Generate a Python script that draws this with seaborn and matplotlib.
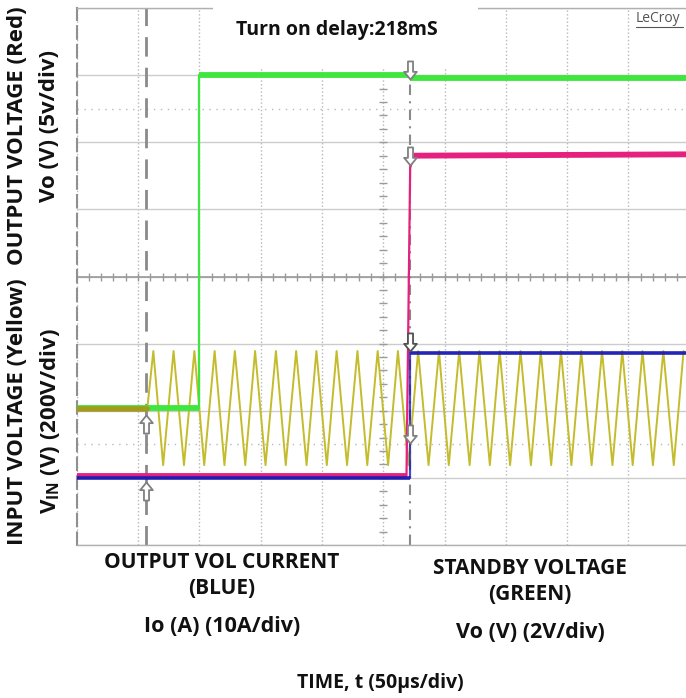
import matplotlib
matplotlib.use("Agg")
import matplotlib.pyplot as plt
from matplotlib.patches import Rectangle
from matplotlib.path import Path
import seaborn as sns
import pandas as pd
import numpy as np

sns.set_theme(style="white")
plt.rcParams['font.family'] = ['Open Sans', 'DejaVu Sans']
plt.rcParams['mathtext.fontset'] = 'custom'
plt.rcParams['mathtext.rm'] = 'Open Sans'
plt.rcParams['mathtext.bf'] = 'Open Sans:bold'

# scope traces, x in divisions (50us/div), y in divisions from the bottom
green_x = [0, 2.0, 2.0, 5.44, 5.44, 10]
green_y = [2.04, 2.04, 7.0, 7.0, 6.96, 6.96]
red_x = [0, 5.38, 5.44, 5.5, 10]
red_y = [1.03, 1.03, 5.62, 5.8, 5.82]
blue_x = [0, 5.44, 5.44, 10]
blue_y = [1.0, 1.0, 2.86, 2.86]
yellow_flat_x = [0, 1.15]
yellow_flat_y = [2.02, 2.02]
yellow_peaks = [1.25, 1.58, 1.92, 2.25, 2.58, 2.91, 3.25, 3.58, 3.91, 4.24, 4.58,
                4.91, 5.24, 5.57, 5.91, 6.24, 6.57, 6.90, 7.24, 7.57, 7.90, 8.23,
                8.57, 8.90, 9.23, 9.57, 9.90]
yellow_troughs = [1.41, 1.75, 2.08, 2.41, 2.75, 3.08, 3.41, 3.75, 4.08, 4.41, 4.74,
                  5.08, 5.41, 5.74, 6.07, 6.41, 6.74, 7.07, 7.41, 7.74, 8.07, 8.40,
                  8.74, 9.07, 9.40, 9.74]
peak_level = 2.89
trough_level = 1.19

cursor_x = [1.13, 5.44]
# scope marker arrows
arrow_x = [1.13, 1.13, 5.44, 5.44, 5.44, 5.44]
arrow_y = [1.80, 0.80, 7.08, 5.80, 3.02, 1.65]
arrow_dir = ['up', 'up', 'down', 'down', 'down', 'down']

GREEN = '#3ee63e'
RED = '#e6207e'
BLUE = '#1c1cb4'
YELLOW = '#c4bc2c'

W, H = 686, 698
fig = plt.figure(figsize=(W / 100, H / 100), dpi=100)
ax = fig.add_axes([76.7 / W, 1 - 545 / H, 613 / W, 537 / H])
ax.set_xlim(0, 10)
ax.set_ylim(0, 8)


def fx(px):
    return px / W


def fy(py):
    return 1 - py / H


# graticule
ax.set_xticks(range(11))
ax.set_yticks(range(9))
ax.tick_params(length=0, labelbottom=False, labelleft=False)
ax.xaxis.grid(True, ls=':', lw=1.0, color='#b8b8b8')
ax.yaxis.grid(True, ls='-', lw=1.0, color='#cccccc')
ax.set_axisbelow(True)
ax.axhline(4, color='#9a9a9a', lw=1.2, zorder=1)
for y in (1.5, 6.5):
    ax.axhline(y, color='#b8b8b8', lw=1.0, ls=(0, (1, 4)), zorder=1)
minor = np.arange(0.2, 10, 0.2)
ax.scatter(minor, np.full_like(minor, 4.0), marker='|', s=30, color='#9a9a9a', lw=1, zorder=1)
minor_y = np.arange(0.2, 8, 0.2)
ax.scatter(np.full_like(minor_y, 5.0), minor_y, marker='_', s=30, color='#9a9a9a', lw=1, zorder=1)

for s in ax.spines.values():
    s.set_color('#b0b0b0')
    s.set_linewidth(1.0)
ax.spines['left'].set_linestyle((0, (6, 3)))
ax.spines['left'].set_color('#909090')
ax.spines['left'].set_linewidth(1.5)

# cursors
ax.axvline(cursor_x[0], color='#8a8a8a', lw=2.0, ls=(0, (7, 4)), zorder=2)
ax.axvline(cursor_x[1], color='#8a8a8a', lw=1.5, ls=(0, (5, 3, 1, 3)), zorder=2)

# title box
ax.add_patch(Rectangle((fx(213), fy(68)), fx(478) - fx(213), fy(0) - fy(68),
                       transform=fig.transFigure, facecolor='white', edgecolor='none',
                       zorder=3, clip_on=False))

# yellow input AC
yx = sorted(yellow_peaks + yellow_troughs)
yy = [peak_level if v in yellow_peaks else trough_level for v in yx]
yellow_df = pd.DataFrame({'x': yellow_flat_x + yx, 'y': yellow_flat_y + yy})
sns.lineplot(data=yellow_df, x='x', y='y', estimator=None, sort=False,
             color=YELLOW, lw=1.4, solid_joinstyle='round', ax=ax, zorder=4)
sns.lineplot(x=yellow_flat_x, y=yellow_flat_y, estimator=None, sort=False,
             color='#a29c1c', lw=4, ax=ax, zorder=6)


def trace(xs, ys, color, thin, thick, z, alpha=1.0):
    df = pd.DataFrame({'x': xs, 'y': ys})
    sns.lineplot(data=df, x='x', y='y', estimator=None, sort=False,
                 color=color, lw=thin, ax=ax, zorder=z, alpha=alpha)
    for i in range(len(xs) - 1):
        if xs[i + 1] - xs[i] > 0.1:
            ax.plot(xs[i:i + 2], ys[i:i + 2], color=color, lw=thick,
                    solid_capstyle='butt', zorder=z, alpha=alpha)


trace(green_x, green_y, GREEN, 1.6, 4.2, 5)
trace(red_x, red_y, RED, 1.6, 4.2, 5)
trace(blue_x, blue_y, BLUE, 1.6, 2.8, 6, alpha=0.8)

# marker arrows (block arrow outline)
up = [(0, 1), (-0.7, 0.15), (-0.28, 0.15), (-0.28, -1), (0.28, -1), (0.28, 0.15), (0.7, 0.15), (0, 1)]
up_path = Path(up, [Path.MOVETO] + [Path.LINETO] * 6 + [Path.CLOSEPOLY])
down_path = Path([(x, -y) for x, y in up], [Path.MOVETO] + [Path.LINETO] * 6 + [Path.CLOSEPOLY])
for x, y, d in zip(arrow_x, arrow_y, arrow_dir):
    c = '#505050' if abs(y - 3.02) < 0.01 else '#808080'
    ax.scatter([x], [y], marker=up_path if d == 'up' else down_path, s=170,
               facecolor='white', edgecolor=c, lw=1.3, zorder=7)

ax.set_xlabel('')
ax.set_ylabel('')
if ax.get_legend():
    ax.get_legend().remove()

# texts
TXT = '#111111'
fig.text(fx(337), fy(30), 'Turn on delay:218mS', ha='center', va='center',
         fontsize=14, fontweight='bold', color=TXT, zorder=8)
fig.text(fx(636), fy(18), 'LeCroy', ha='left', va='center', fontsize=10,
         color='#555555', zorder=8)
fig.add_artist(plt.Line2D([fx(636), fx(683)], [fy(27), fy(27)], color='#555555', lw=0.8))

fig.text(fx(18), fy(136), 'OUTPUT VOLTAGE (Red)', rotation=90, ha='center', va='center',
         fontsize=16, fontweight='bold', color=TXT)
fig.text(fx(50), fy(126), 'Vo (V) (5v/div)', rotation=90, ha='center', va='center',
         fontsize=16, fontweight='bold', color=TXT)
fig.text(fx(18), fy(412), 'INPUT VOLTAGE (Yellow)', rotation=90, ha='center', va='center',
         fontsize=16, fontweight='bold', color=TXT)
fig.text(fx(50), fy(421), r'V$_{\mathbf{IN}}$ (V) (200V/div)', rotation=90, ha='center',
         va='center', fontsize=16, fontweight='bold', color=TXT)

fig.text(fx(222), fy(563), 'OUTPUT VOL CURRENT', ha='center', va='center',
         fontsize=15, fontweight='bold', color=TXT)
fig.text(fx(222), fy(589), '(BLUE)', ha='center', va='center',
         fontsize=15, fontweight='bold', color=TXT)
fig.text(fx(222), fy(626), 'Io (A) (10A/div)', ha='center', va='center',
         fontsize=15.5, fontweight='bold', color=TXT)
fig.text(fx(530), fy(568), 'STANDBY VOLTAGE', ha='center', va='center',
         fontsize=15, fontweight='bold', color=TXT)
fig.text(fx(530), fy(595), '(GREEN)', ha='center', va='center',
         fontsize=15, fontweight='bold', color=TXT)
fig.text(fx(530), fy(633), 'Vo (V) (2V/div)', ha='center', va='center',
         fontsize=15.5, fontweight='bold', color=TXT)
fig.text(fx(380), fy(683), 'TIME, t (50μs/div)', ha='center', va='center',
         fontsize=14, fontweight='bold', color=TXT)

fig.savefig('out.png', dpi=100)
